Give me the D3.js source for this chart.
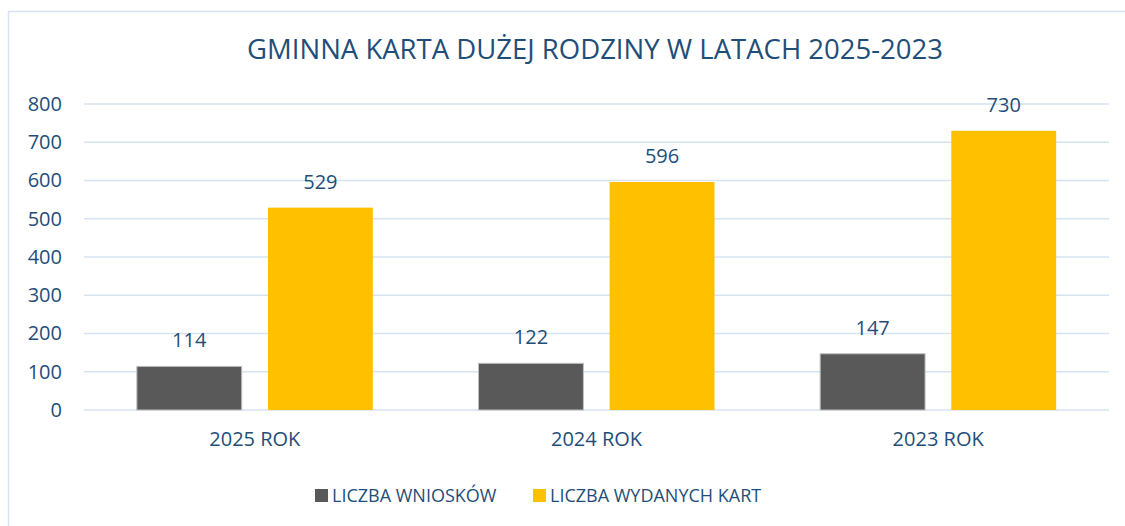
<!DOCTYPE html>
<html>
<head>
<meta charset="utf-8">
<script src="https://cdn.jsdelivr.net/npm/d3@7"></script>
<style>
body { margin: 0; background: #fff; }
text { font-family: "Open Sans", "Noto Sans", sans-serif; fill: #1F4E79; }
</style>
</head>
<body>
<svg id="chart" width="1125" height="526"></svg>
<script>
// chart data
const categories = ["2025 ROK", "2024 ROK", "2023 ROK"];
const seriesNames = ["LICZBA WNIOSKÓW", "LICZBA WYDANYCH KART"];
const wnioski = [114, 122, 147];
const karty = [529, 596, 730];
const yTicks = [0, 100, 200, 300, 400, 500, 600, 700, 800];
const colors = ["#595959", "#FFC000"];

const svg = d3.select("#chart"),
      margin = {top: 104, right: 16, bottom: 116, left: 84},
      width = 1125 - margin.left - margin.right,
      height = 526 - margin.top - margin.bottom;

// chart frame
svg.append("rect")
   .attr("x", 8.5).attr("y", 11.5)
   .attr("width", 1130).attr("height", 530)
   .attr("fill", "none")
   .attr("stroke", "#D6E3F3")
   .attr("stroke-width", 1.5);

const g = svg.append("g").attr("transform", `translate(${margin.left},${margin.top})`);

const x0 = d3.scaleBand().domain(categories).range([0, width]).paddingInner(0).paddingOuter(0);
const x1 = d3.scaleBand().domain(seriesNames).range([x0.bandwidth()/2 - 118, x0.bandwidth()/2 + 118]).paddingInner(0.2);
const y = d3.scaleLinear().domain([0, 800]).range([height, 0]);

// gridlines
g.append("g")
  .selectAll("line")
  .data(yTicks)
  .enter().append("line")
    .attr("x1", 0).attr("x2", width)
    .attr("y1", d => y(d)).attr("y2", d => y(d))
    .attr("stroke", "#D6E3F3")
    .attr("stroke-width", 1.5);

// y axis labels
const yAxis = g.append("g")
  .call(d3.axisLeft(y).tickValues(yTicks).tickSize(0).tickPadding(22));
yAxis.select(".domain").remove();
yAxis.selectAll("text")
  .style("font-size", "20px")
  .attr("fill", "#1F4E79");

// x axis labels
const xAxis = g.append("g")
  .attr("transform", `translate(0,${height})`)
  .call(d3.axisBottom(x0).tickSize(0).tickPadding(22));
xAxis.select(".domain").remove();
xAxis.selectAll("text")
  .style("font-size", "20px")
  .attr("fill", "#1F4E79");

const rows = categories.map((c, i) => ({cat: c, vals: [wnioski[i], karty[i]]}));

const groups = g.selectAll(".grp")
  .data(rows)
  .enter().append("g")
    .attr("class", "grp")
    .attr("transform", d => `translate(${x0(d.cat)},0)`);

groups.selectAll("rect")
  .data(d => d.vals.map((v, j) => ({s: seriesNames[j], v: v, j: j})))
  .enter().append("rect")
    .attr("x", d => x1(d.s))
    .attr("y", d => y(d.v))
    .attr("width", x1.bandwidth())
    .attr("height", d => y(0) - y(d.v))
    .attr("fill", d => colors[d.j])
    .attr("stroke", d => d.j == 0 ? "#BFBFBF" : "none")
    .attr("stroke-width", 1);

groups.selectAll(".lbl")
  .data(d => d.vals.map((v, j) => ({s: seriesNames[j], v: v})))
  .enter().append("text")
    .attr("class", "lbl")
    .attr("x", d => x1(d.s) + x1.bandwidth()/2)
    .attr("y", d => y(d.v) - 19)
    .attr("text-anchor", "middle")
    .style("font-size", "20px")
    .text(d => d.v);

// title
svg.append("text")
   .attr("x", 595)
   .attr("y", 59)
   .attr("text-anchor", "middle")
   .style("font-size", "27.5px")
   .text("GMINNA KARTA DUŻEJ RODZINY W LATACH 2025-2023");

// legend
const legendX = [315, 533];
const legend = svg.selectAll(".leg")
  .data(seriesNames)
  .enter().append("g")
    .attr("class", "leg")
    .attr("transform", (d, i) => `translate(${legendX[i]},489)`);
legend.append("rect")
  .attr("width", 13).attr("height", 13)
  .attr("fill", (d, i) => colors[i]);
legend.append("text")
  .attr("x", 17).attr("y", 13)
  .style("font-size", "18px")
  .text(d => d);
</script>
</body>
</html>
